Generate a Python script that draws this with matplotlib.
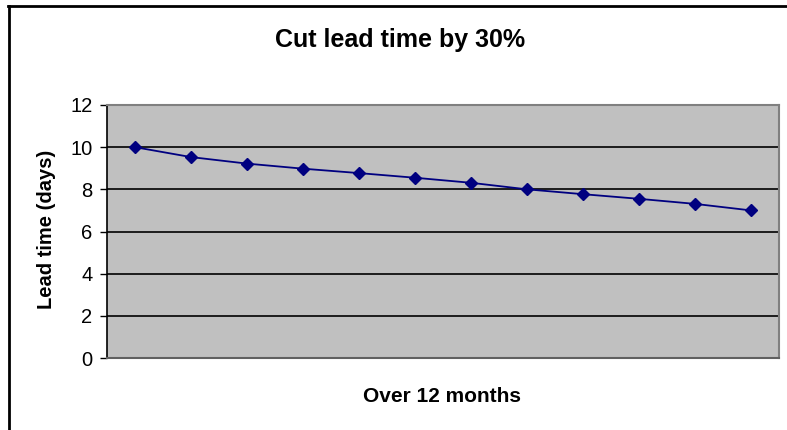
import numpy as np
import matplotlib
matplotlib.use('Agg')
import matplotlib.pyplot as plt
from matplotlib.lines import Line2D

plt.rcParams['font.family'] = ['Liberation Sans', 'DejaVu Sans']

# monthly lead time values (days)
months = np.arange(12)
lead_time = [10.0, 9.53, 9.22, 8.98, 8.77, 8.55, 8.31, 8.0, 7.77, 7.55, 7.31, 7.0]
yticks = [0, 2, 4, 6, 8, 10, 12]

fig = plt.figure(figsize=(7.87, 4.30), dpi=100)
ax = fig.add_axes([107/787, 1-358/430, 672/787, 253/430])
ax.set_facecolor('#c0c0c0')

ax.plot(months, lead_time, color='#000080', lw=1.3, marker='D', ms=6.5,
        markerfacecolor='#000080', markeredgecolor='#000080')

ax.set_xlim(-0.5, 11.5)
ax.set_ylim(0, 12)
ax.set_yticks(yticks)
ax.set_xticks([])
ax.grid(True, axis='y', color='black', lw=1.2)
ax.set_axisbelow(True)
ax.tick_params(axis='y', direction='out', length=5, width=1, labelsize=14.5, pad=5.5)

for s in ['top', 'right']:
    ax.spines[s].set_color('#808080')
    ax.spines[s].set_linewidth(1.5)
ax.spines['left'].set_color('black')
ax.spines['left'].set_linewidth(1.2)
ax.spines['bottom'].set_color('#606060')
ax.spines['bottom'].set_linewidth(1.5)

fig.text(400/787, 1-47/430, 'Cut lead time by 30%', ha='center', va='baseline',
         fontsize=18, fontweight='bold')
fig.text(442/787, 1-402/430, 'Over 12 months', ha='center', va='baseline',
         fontsize=15, fontweight='bold')
fig.text(47/787, 1-229/430, 'Lead time (days)', ha='center', va='center',
         rotation=90, fontsize=14.5, fontweight='bold')

# outer chart border (cropped on the right and bottom)
fig.add_artist(Line2D([8/787, 1], [1-5.5/430, 1-5.5/430], color='black', lw=2,
                      transform=fig.transFigure))
fig.add_artist(Line2D([9/787, 9/787], [0, 1-5.5/430], color='black', lw=2,
                      transform=fig.transFigure))

fig.savefig('out.png', dpi=100)
